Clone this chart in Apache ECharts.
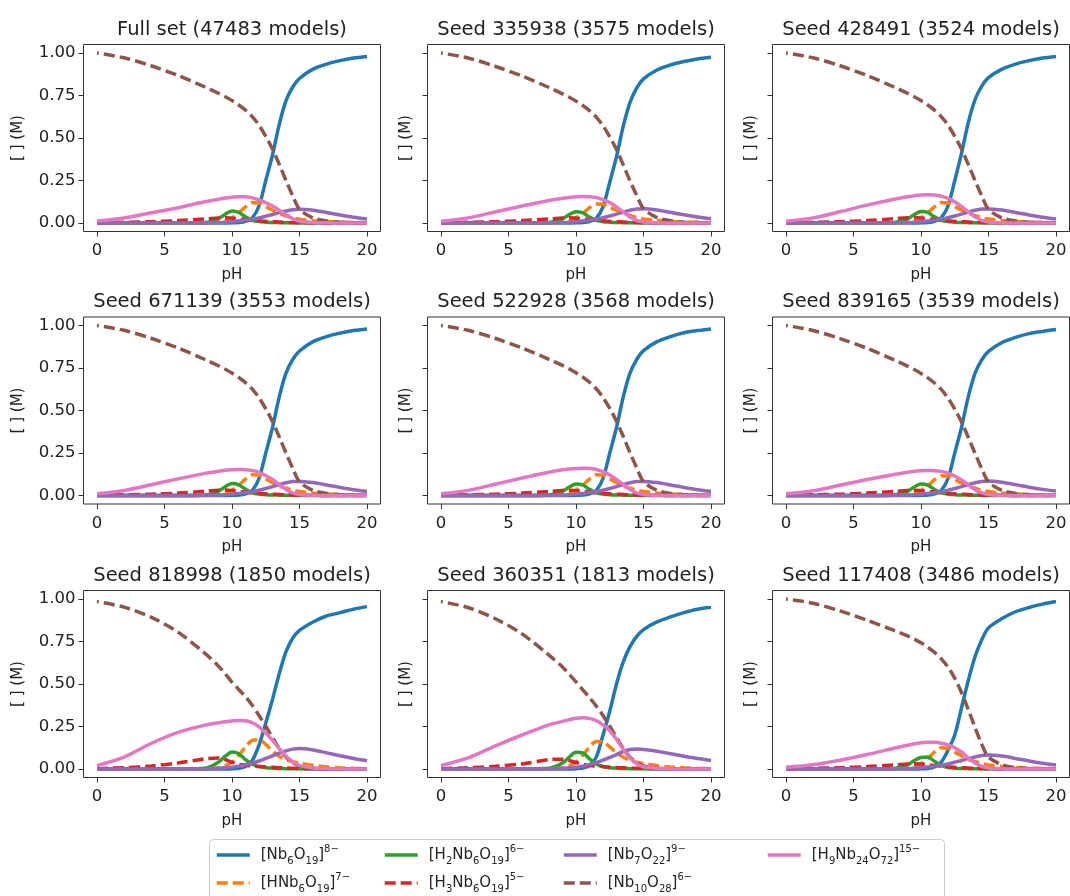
<!DOCTYPE html>
<html>
<head>
<meta charset="utf-8">
<script src="https://cdn.jsdelivr.net/npm/echarts@6/dist/echarts.min.js"></script>
<style>
  html, body { margin: 0; padding: 0; background: #fff; }
  #main { width: 1070px; height: 896px; }
</style>
</head>
<body>
<div id="main"></div>
<script>
// pH grid the curves are sampled on
var pH = [0, 2, 4, 6, 8, 9, 9.5, 10, 10.5, 11, 11.5, 12, 12.5, 13, 13.5, 14, 14.5, 15, 16, 17, 18, 19, 20];

var titles = ['Full set (47483 models)', 'Seed 335938 (3575 models)', 'Seed 428491 (3524 models)',
              'Seed 671139 (3553 models)', 'Seed 522928 (3568 models)', 'Seed 839165 (3539 models)',
              'Seed 818998 (1850 models)', 'Seed 360351 (1813 models)', 'Seed 117408 (3486 models)'];

var xTicks = [0, 5, 10, 15, 20];
var yTicks = [0, 0.25, 0.5, 0.75, 1];

// one row per panel, same order as titles
var nb6o19 = [
  [0,0,0,0,0,0,0,0.001,0.003,0.01,0.03,0.1,0.25,0.4,0.58,0.72,0.8,0.85,0.905,0.935,0.955,0.97,0.98],
  [0,0,0,0,0,0,0,0.001,0.003,0.009,0.028,0.095,0.24,0.39,0.57,0.71,0.795,0.848,0.9,0.93,0.95,0.965,0.975],
  [0,0,0,0,0,0,0,0.001,0.003,0.01,0.032,0.1,0.25,0.41,0.59,0.725,0.805,0.855,0.905,0.935,0.955,0.97,0.98],
  [0,0,0,0,0,0,0,0.001,0.003,0.01,0.03,0.1,0.25,0.4,0.58,0.72,0.8,0.85,0.905,0.935,0.955,0.97,0.98],
  [0,0,0,0,0,0,0,0.001,0.003,0.01,0.03,0.1,0.25,0.4,0.58,0.72,0.8,0.852,0.905,0.935,0.957,0.97,0.98],
  [0,0,0,0,0,0,0,0.001,0.003,0.01,0.03,0.1,0.25,0.4,0.58,0.718,0.798,0.848,0.9,0.93,0.952,0.965,0.976],
  [0,0,0,0,0,0,0,0.001,0.004,0.015,0.05,0.14,0.27,0.41,0.56,0.69,0.77,0.815,0.865,0.9,0.92,0.94,0.955],
  [0,0,0,0,0,0,0,0.002,0.006,0.02,0.07,0.2,0.34,0.5,0.63,0.72,0.78,0.82,0.865,0.895,0.92,0.94,0.952],
  [0,0,0,0,0,0,0,0.001,0.003,0.012,0.04,0.11,0.2,0.36,0.52,0.66,0.76,0.83,0.885,0.925,0.95,0.97,0.985]
];
var hnb6o19 = [
  [0,0,0,0,0.001,0.005,0.013,0.03,0.06,0.095,0.12,0.118,0.097,0.075,0.056,0.042,0.03,0.022,0.014,0.009,0.005,0.003,0.002],
  [0,0,0,0,0.001,0.004,0.012,0.03,0.055,0.09,0.112,0.11,0.092,0.075,0.058,0.045,0.032,0.024,0.016,0.01,0.006,0.004,0.002],
  [0,0,0,0,0.001,0.005,0.013,0.03,0.06,0.095,0.12,0.118,0.097,0.076,0.057,0.043,0.031,0.023,0.015,0.009,0.005,0.003,0.002],
  [0,0,0,0,0.001,0.005,0.013,0.031,0.06,0.097,0.122,0.12,0.098,0.076,0.057,0.043,0.031,0.023,0.015,0.009,0.005,0.003,0.002],
  [0,0,0,0,0.001,0.005,0.013,0.031,0.06,0.097,0.122,0.12,0.098,0.076,0.057,0.043,0.031,0.023,0.015,0.009,0.005,0.003,0.002],
  [0,0,0,0,0.001,0.004,0.012,0.03,0.057,0.093,0.116,0.114,0.094,0.074,0.056,0.043,0.031,0.023,0.015,0.009,0.005,0.003,0.002],
  [0,0,0,0,0.002,0.008,0.02,0.04,0.08,0.13,0.168,0.172,0.145,0.105,0.075,0.055,0.043,0.035,0.022,0.013,0.007,0.004,0.002],
  [0,0,0,0,0.002,0.008,0.02,0.04,0.08,0.13,0.162,0.16,0.13,0.095,0.07,0.05,0.04,0.032,0.02,0.012,0.007,0.004,0.002],
  [0,0,0,0,0.001,0.005,0.013,0.03,0.06,0.1,0.125,0.122,0.1,0.078,0.058,0.044,0.032,0.024,0.015,0.009,0.005,0.003,0.002]
];
var h2nb6o19 = [
  [0,0,0,0,0.003,0.026,0.052,0.07,0.062,0.036,0.016,0.008,0.005,0.003,0.002,0.001,0.001,0,0,0,0,0,0],
  [0,0,0,0,0.003,0.025,0.05,0.066,0.06,0.035,0.015,0.008,0.005,0.003,0.002,0.001,0.001,0,0,0,0,0,0],
  [0,0,0,0,0.003,0.025,0.05,0.068,0.062,0.036,0.016,0.008,0.005,0.003,0.002,0.001,0.001,0,0,0,0,0,0],
  [0,0,0,0,0.003,0.026,0.052,0.07,0.063,0.037,0.016,0.008,0.005,0.003,0.002,0.001,0.001,0,0,0,0,0,0],
  [0,0,0,0,0.003,0.025,0.05,0.068,0.062,0.036,0.016,0.008,0.005,0.003,0.002,0.001,0.001,0,0,0,0,0,0],
  [0,0,0,0,0.003,0.025,0.05,0.067,0.061,0.035,0.015,0.008,0.005,0.003,0.002,0.001,0.001,0,0,0,0,0,0],
  [0,0,0,0,0.005,0.04,0.075,0.1,0.09,0.055,0.028,0.014,0.008,0.005,0.003,0.002,0.001,0.001,0,0,0,0,0],
  [0,0,0,0,0.004,0.035,0.07,0.098,0.095,0.06,0.03,0.015,0.008,0.005,0.003,0.002,0.001,0.001,0,0,0,0,0],
  [0,0,0,0,0.003,0.025,0.05,0.068,0.07,0.045,0.02,0.009,0.005,0.003,0.002,0.001,0.001,0,0,0,0,0,0]
];
var h3nb6o19 = [
  [0.001,0.004,0.008,0.014,0.024,0.03,0.031,0.028,0.024,0.02,0.016,0.013,0.01,0.008,0.006,0.004,0.003,0.002,0.001,0,0,0,0],
  [0.001,0.004,0.008,0.014,0.024,0.03,0.031,0.028,0.024,0.02,0.016,0.013,0.01,0.008,0.006,0.004,0.003,0.002,0.001,0,0,0,0],
  [0.001,0.004,0.008,0.014,0.025,0.031,0.032,0.029,0.024,0.02,0.016,0.013,0.01,0.008,0.006,0.004,0.003,0.002,0.001,0,0,0,0],
  [0.001,0.004,0.008,0.014,0.025,0.031,0.032,0.029,0.024,0.02,0.016,0.013,0.01,0.008,0.006,0.004,0.003,0.002,0.001,0,0,0,0],
  [0.001,0.004,0.008,0.014,0.024,0.03,0.031,0.028,0.024,0.02,0.016,0.013,0.01,0.008,0.006,0.004,0.003,0.002,0.001,0,0,0,0],
  [0.001,0.004,0.008,0.014,0.024,0.03,0.031,0.028,0.024,0.02,0.016,0.013,0.01,0.008,0.006,0.004,0.003,0.002,0.001,0,0,0,0],
  [0.002,0.008,0.018,0.035,0.06,0.065,0.055,0.04,0.028,0.022,0.018,0.015,0.012,0.01,0.008,0.006,0.004,0.003,0.002,0.001,0,0,0],
  [0.002,0.007,0.016,0.03,0.055,0.058,0.05,0.038,0.027,0.021,0.017,0.014,0.011,0.009,0.007,0.005,0.004,0.003,0.002,0.001,0,0,0],
  [0.001,0.004,0.008,0.014,0.024,0.03,0.031,0.029,0.025,0.02,0.016,0.013,0.01,0.008,0.006,0.004,0.003,0.002,0.001,0,0,0,0]
];
var nb7o22 = [
  [0,0,0,0,0.001,0.003,0.005,0.008,0.012,0.017,0.023,0.03,0.04,0.05,0.061,0.071,0.078,0.081,0.075,0.062,0.047,0.034,0.024],
  [0,0,0,0,0.001,0.003,0.005,0.008,0.012,0.017,0.023,0.031,0.041,0.052,0.064,0.075,0.083,0.084,0.077,0.063,0.048,0.035,0.025],
  [0,0,0,0,0.001,0.003,0.005,0.008,0.012,0.017,0.023,0.031,0.041,0.052,0.064,0.075,0.082,0.083,0.076,0.062,0.047,0.034,0.024],
  [0,0,0,0,0.001,0.003,0.005,0.008,0.012,0.017,0.023,0.031,0.041,0.052,0.064,0.075,0.082,0.083,0.076,0.062,0.047,0.034,0.024],
  [0,0,0,0,0.001,0.003,0.005,0.008,0.012,0.017,0.023,0.031,0.041,0.052,0.064,0.075,0.082,0.083,0.076,0.062,0.047,0.034,0.024],
  [0,0,0,0,0.001,0.003,0.005,0.008,0.012,0.017,0.023,0.031,0.041,0.052,0.064,0.075,0.083,0.085,0.078,0.064,0.049,0.036,0.026],
  [0,0,0,0,0.002,0.004,0.007,0.011,0.017,0.025,0.035,0.047,0.062,0.077,0.093,0.107,0.117,0.12,0.112,0.095,0.078,0.062,0.049],
  [0,0,0,0,0.002,0.004,0.007,0.01,0.017,0.026,0.038,0.052,0.068,0.085,0.103,0.115,0.117,0.115,0.105,0.09,0.075,0.062,0.05],
  [0,0,0,0,0.001,0.003,0.005,0.008,0.012,0.017,0.023,0.03,0.04,0.05,0.061,0.071,0.079,0.082,0.076,0.062,0.047,0.034,0.023]
];
var nb10o28 = [
  [1.0,0.972,0.925,0.868,0.8,0.763,0.743,0.72,0.694,0.664,0.626,0.575,0.51,0.435,0.345,0.25,0.16,0.08,0.03,0.012,0.005,0.002,0.001],
  [1.0,0.971,0.922,0.865,0.797,0.76,0.74,0.717,0.691,0.661,0.623,0.572,0.507,0.432,0.342,0.248,0.162,0.085,0.032,0.013,0.005,0.002,0.001],
  [1.0,0.972,0.925,0.868,0.8,0.763,0.743,0.72,0.694,0.664,0.626,0.575,0.51,0.435,0.345,0.25,0.16,0.08,0.03,0.012,0.005,0.002,0.001],
  [1.0,0.972,0.925,0.868,0.8,0.763,0.743,0.72,0.694,0.664,0.626,0.575,0.51,0.435,0.345,0.25,0.16,0.08,0.03,0.012,0.005,0.002,0.001],
  [1.0,0.972,0.925,0.868,0.801,0.765,0.745,0.722,0.696,0.666,0.628,0.577,0.512,0.437,0.347,0.252,0.162,0.082,0.03,0.012,0.005,0.002,0.001],
  [1.0,0.971,0.923,0.866,0.798,0.761,0.741,0.718,0.692,0.662,0.624,0.573,0.508,0.433,0.343,0.248,0.158,0.079,0.03,0.012,0.005,0.002,0.001],
  [0.985,0.952,0.893,0.805,0.68,0.605,0.56,0.51,0.468,0.425,0.375,0.315,0.252,0.185,0.12,0.07,0.037,0.018,0.005,0.001,0,0,0],
  [0.985,0.95,0.885,0.795,0.67,0.6,0.557,0.512,0.466,0.42,0.37,0.315,0.252,0.185,0.12,0.07,0.037,0.018,0.005,0.001,0,0,0],
  [1.0,0.975,0.93,0.875,0.815,0.783,0.764,0.742,0.716,0.686,0.648,0.6,0.534,0.45,0.35,0.245,0.145,0.07,0.025,0.008,0.003,0.001,0]
];
var h9nb24o72 = [
  [0.012,0.03,0.06,0.09,0.125,0.14,0.147,0.152,0.155,0.154,0.148,0.136,0.12,0.1,0.075,0.048,0.025,0.01,0.003,0.001,0,0,0],
  [0.01,0.03,0.065,0.1,0.132,0.145,0.15,0.154,0.156,0.155,0.15,0.138,0.12,0.095,0.065,0.035,0.015,0.006,0.001,0,0,0,0],
  [0.01,0.03,0.066,0.105,0.14,0.155,0.16,0.164,0.166,0.165,0.158,0.145,0.125,0.098,0.066,0.036,0.016,0.006,0.001,0,0,0,0],
  [0.01,0.03,0.063,0.098,0.13,0.143,0.148,0.151,0.153,0.152,0.147,0.136,0.118,0.094,0.064,0.035,0.015,0.006,0.001,0,0,0,0],
  [0.01,0.03,0.066,0.103,0.137,0.151,0.156,0.159,0.161,0.16,0.153,0.14,0.121,0.095,0.065,0.035,0.015,0.006,0.001,0,0,0,0],
  [0.01,0.028,0.06,0.094,0.124,0.137,0.142,0.145,0.147,0.146,0.142,0.132,0.115,0.092,0.063,0.034,0.015,0.006,0.001,0,0,0,0],
  [0.02,0.07,0.15,0.215,0.258,0.272,0.278,0.283,0.286,0.284,0.272,0.248,0.212,0.168,0.12,0.076,0.042,0.021,0.006,0.002,0.001,0,0],
  [0.02,0.065,0.135,0.2,0.26,0.28,0.29,0.298,0.302,0.298,0.285,0.26,0.225,0.175,0.115,0.065,0.03,0.013,0.004,0.001,0,0,0],
  [0.01,0.025,0.052,0.085,0.122,0.14,0.148,0.155,0.158,0.157,0.152,0.142,0.125,0.1,0.065,0.035,0.015,0.006,0.001,0,0,0,0]
];

var species = [
  { name: 'Nb6O19',     label: '{g| }[Nb{s|6}O{s|19}]{p|8−}',        color: '#1f77b4', dashed: false, data: nb6o19 },
  { name: 'HNb6O19',    label: '{g| }[HNb{s|6}O{s|19}]{p|7−}',       color: '#ff7f0e', dashed: true,  data: hnb6o19 },
  { name: 'H2Nb6O19',   label: '{g| }[H{s|2}Nb{s|6}O{s|19}]{p|6−}',  color: '#2ca02c', dashed: false, data: h2nb6o19 },
  { name: 'H3Nb6O19',   label: '{g| }[H{s|3}Nb{s|6}O{s|19}]{p|5−}',  color: '#d62728', dashed: true,  data: h3nb6o19 },
  { name: 'Nb7O22',     label: '{g| }[Nb{s|7}O{s|22}]{p|9−}',        color: '#9467bd', dashed: false, data: nb7o22 },
  { name: 'Nb10O28',    label: '{g| }[Nb{s|10}O{s|28}]{p|6−}',       color: '#8c564b', dashed: true,  data: nb10o28 },
  { name: 'H9Nb24O72',  label: '{g| }[H{s|9}Nb{s|24}O{s|72}]{p|15−}', color: '#e377c2', dashed: false, data: h9nb24o72 }
];

var FONT = 'DejaVu Sans';
var TXT = '#222';
var colLeft = [83.5, 427.5, 772.5];
var rowTop = [44.5, 317, 590.5];
var W = 297, H = 187;
var legendPos = [[215, 844], [215, 872], [383, 844], [383, 872], [562, 844], [562, 872], [766, 844]];

var grids = [], xAxes = [], yAxes = [], series = [], title = [], legends = [];

for (var i = 0; i < 9; i++) {
  var col = i % 3, row = Math.floor(i / 3);
  grids.push({ left: colLeft[col], top: rowTop[row], width: W, height: H,
               show: true, borderColor: '#333', borderWidth: 1, backgroundColor: 'transparent' });
  title.push({ text: titles[i], left: colLeft[col] + W / 2, top: rowTop[row] - 25, textAlign: 'center', padding: 0,
               textStyle: { fontFamily: FONT, fontSize: 19.5, fontWeight: 'normal', color: TXT } });
  xAxes.push({
    gridIndex: i, type: 'value', min: -1, max: 21,
    axisLine: { show: false, onZero: false }, splitLine: { show: false },
    axisTick: { show: true, length: 5, customValues: xTicks, lineStyle: { color: '#333' } },
    axisLabel: { customValues: xTicks, fontFamily: FONT, fontSize: 16.5, color: TXT, margin: 11 },
    name: 'pH', nameLocation: 'middle', nameGap: 36,
    nameTextStyle: { fontFamily: FONT, fontSize: 15, color: TXT }
  });
  yAxes.push({
    gridIndex: i, type: 'value', min: -0.05, max: 1.05,
    axisLine: { show: false, onZero: false }, splitLine: { show: false },
    axisTick: { show: true, length: 5, customValues: yTicks, lineStyle: { color: '#333' } },
    axisLabel: { show: col === 0, customValues: yTicks, fontFamily: FONT, fontSize: 16.5, color: TXT, margin: 8,
                 formatter: function (v) { return v.toFixed(2); } },
    name: '[ ] (M)', nameLocation: 'middle', nameGap: col === 0 ? 58 : 14,
    nameTextStyle: { fontFamily: FONT, fontSize: 15, color: TXT }
  });
  species.forEach(function (sp) {
    var vals = sp.data[i];
    series.push({
      type: 'line', name: sp.name, xAxisIndex: i, yAxisIndex: i,
      data: pH.map(function (x, k) { return [x, vals[k]]; }),
      showSymbol: false, symbol: 'none', smooth: 0.3, silent: true,
      lineStyle: { width: 3.5, color: sp.color, type: sp.dashed ? [11, 5] : 'solid',
                   dashOffset: sp.name === 'Nb10O28' ? 9 : 0 },
      itemStyle: { color: sp.color }
    });
  });
}

species.forEach(function (sp, k) {
  legends.push({
    data: [sp.name], left: legendPos[k][0], top: legendPos[k][1], padding: 0,
    itemWidth: 33, itemHeight: 14, selectedMode: false,
    itemStyle: { color: 'transparent', borderColor: 'transparent', borderWidth: 0, opacity: 0 },
    lineStyle: { width: 3.5, dashOffset: 0 },
    formatter: function () { return sp.label; },
    textStyle: {
      fontFamily: FONT, fontSize: 15, color: TXT, lineHeight: 22,
      rich: {
        g: { width: 6 },
        s: { fontFamily: FONT, fontSize: 10, lineHeight: 11, verticalAlign: 'bottom', color: TXT },
        p: { fontFamily: FONT, fontSize: 10, lineHeight: 11, verticalAlign: 'top', color: TXT }
      }
    }
  });
});

var chart = echarts.init(document.getElementById('main'));
chart.setOption({
  animation: false,
  backgroundColor: '#fff',
  title: title,
  grid: grids,
  xAxis: xAxes,
  yAxis: yAxes,
  legend: legends,
  graphic: [{
    type: 'rect', z: -1,
    shape: { x: 209.5, y: 839.5, width: 735, height: 80, r: 4 },
    style: { fill: '#fff', stroke: '#ccc', lineWidth: 1 }
  }],
  series: series
});
</script>
</body>
</html>
